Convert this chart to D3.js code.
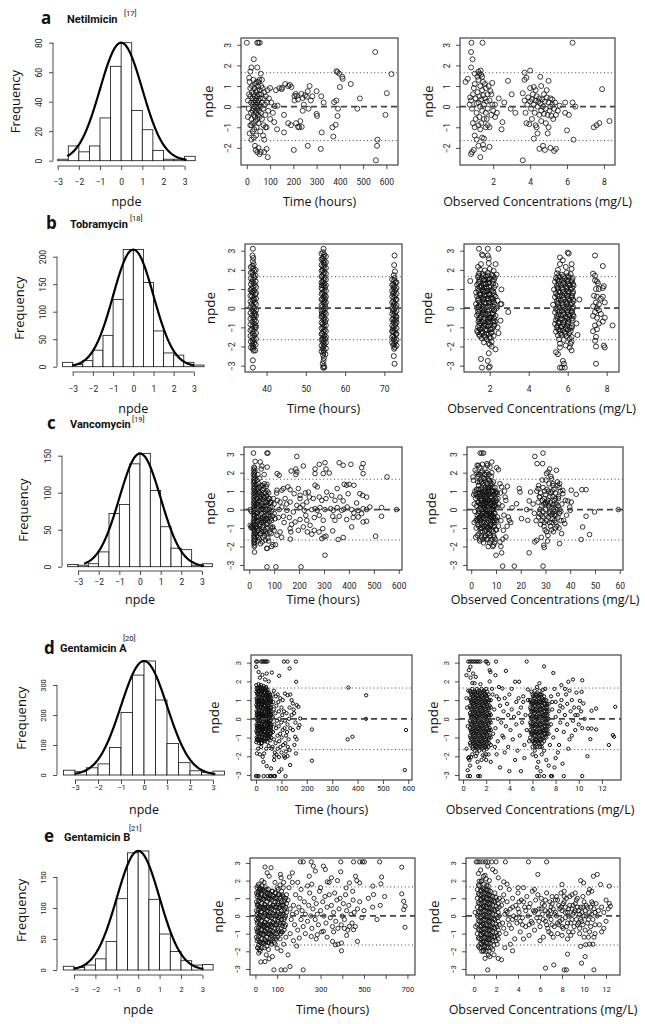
<!DOCTYPE html>
<html><head><meta charset="utf-8">
<script src="https://cdn.jsdelivr.net/npm/d3@7"></script>
<style>body{margin:0;background:#fff}</style>
</head><body>
<script>
// ---------------- DATA ----------------
const letters = ['a','b','c','d','e'];
const drugs = ['Netilmicin','Tobramycin','Vancomycin','Gentamicin A','Gentamicin B'];
const refs = ['[17]','[18]','[19]','[20]','[21]'];
const binW = 0.5;
const histStart = [-3,-3.5,-3.5,-3.5,-3.5];
const histA = [1,10,6,10,29,64,80,34,21,7,1,1,3];
const histB = [8,4,11,30,57,122,213,213,153,65,25,21,8,3];
const histC = [3,2,4,20,72,84,139,153,103,54,25,23,2,4];
const histD = [16,11,24,37,92,208,333,380,250,105,41,14,9,13];
const histE = [6,4,8,18,46,115,189,192,114,58,30,15,8,9];
const freqTicks = [[0,20,40,60,80],[0,50,100,150,200],[0,50,100,150],[0,100,200,300],[0,50,100,150]];
const histXTicks = [-3,-2,-1,0,1,2,3];
const curvePeak = [80,213,153,380,192];
const curveSpan = [[-2.55,3.1],[-3,3],[-2.7,3.1],[-3,3.1],[-3,3.05]];
const npdeTicks = [-3,-2,-1,0,1,2,3];
const timeTicks = [[0,100,200,300,400,500,600],[40,50,60,70],[0,100,200,300,400,500,600],[0,100,200,300,400,500,600],[0,100,200,300,400,500,600,700]];
const timeTickLabels = [null,null,null,null,[0,100,300,500,700]];
const concTicks = [[2,4,6,8],[2,4,6,8],[0,10,20,30,40,50,60],[0,2,4,6,8,10,12],[0,2,4,6,8,10,12]];
const piLimit = 1.645;

// Row a
const aTime = [[0,3.1],[45,3.1],[50,3.1],[56,3.1],
[10,1.4],[12,1.2],[15,0.9],[15,0.5],[18,0.2],[18,-0.3],[20,-0.6],[20,-0.9],[22,1.0],[22,0.7],[25,0.4],[25,0.1],[25,-0.2],[26,-0.8],[28,1.3],[28,0.6],[30,0.2],[30,-0.1],[30,-0.4],[32,0.9],[32,-1.1],[34,0.5],[34,0.0],[35,-0.5],[36,1.1],[36,0.3],[38,-0.2],[38,-0.7],[40,0.7],[40,0.4],[40,0.1],[40,-0.3],[42,1.2],[42,-1.0],[44,0.8],[44,0.2],[45,-0.1],[45,-0.6],[46,0.5],[48,1.0],[48,0.0],[48,-0.4],[50,0.3],[50,-0.8],[52,0.6],[52,-0.2],[54,1.3],[54,0.1],[55,-0.5],[56,0.8],[58,0.4],[58,-1.2],[60,0.0],[60,-0.3],[62,0.6],[62,1.0],[65,0.2],[65,-0.6],[68,0.9],[70,-0.1],[70,0.4],[72,-0.9],[75,0.7],[78,0.1],[80,-0.4],[82,0.5],[85,-1.0],[88,0.2],[90,0.8],[92,-0.2],[95,0.4],[12,-1.3],[20,-1.6],[30,-1.5],[40,-1.4],[35,-1.9],[38,-2.1],[45,-2.2],[50,-2.0],[55,-2.3],[60,-2.2],[70,-1.4],[75,-1.6],[85,-2.05],[90,-2.45],[8,-0.1],[5,0.3],[5,-0.5],[10,0.6],[15,1.7],[20,1.9],[30,2.3],[45,1.9],[60,1.6],[15,-0.9],[25,-1.2],[50,1.2],[65,1.3],[80,-1.0],[75,-2.2],[100,-0.6],[100,0.9],
[150,0.85],[152,0.92],[165,1.1],[178,1.0],[185,1.05],[192,0.95],[205,0.3],[205,0.52],[210,0.62],[220,0.35],[235,0.62],[240,0.42],[250,0.55],[262,0.75],[270,1.0],[258,0.48],[282,0.5],[300,0.75],[320,0.5],[300,-0.35],[302,-0.45],[265,-0.1],[240,-0.2],[230,-0.7],[225,-1.0],[212,-0.8],[220,-0.98],[236,-0.98],[190,-0.9],[178,-0.8],[160,-0.4],[160,-1.25],[130,-1.1],[132,0.05],[120,0.02],[112,-0.3],[105,0.2],[202,-2.1],[262,-1.9],[318,-2.05],[322,-1.25],[368,-1.0],[382,-0.88],[372,-1.45],[390,-0.45],[392,-0.1],[385,0.3],[375,0.22],[385,1.72],[390,1.68],[397,1.6],[410,1.45],[412,1.35],[400,0.95],[447,1.1],[475,-0.1],[486,0.4],[552,2.65],[562,-1.6],[560,-1.9],[555,-2.6],[596,-0.4],[602,0.65],[622,1.58],[245,0.1],[215,0.52],[125,0.8],[140,0.9],[118,-0.75],[275,0.3],[330,0.2]];
const aConc = [[0.82,3.1],[1.42,3.1],[0.8,2.65],[0.88,2.3],[0.8,1.9],[1.0,1.6],[1.2,1.7],[1.32,1.75],[1.35,1.55],[0.5,1.2],[0.62,1.35],[0.75,0.45],[0.8,0.3],[0.72,0.1],[0.85,-0.1],[0.9,0.6],[0.95,0.9],[1.0,1.1],[1.05,0.4],[1.1,0.15],[1.1,-0.3],[1.15,0.7],[1.2,1.3],[1.2,0.2],[1.25,-0.5],[1.25,0.5],[1.3,1.0],[1.3,0.0],[1.35,0.35],[1.4,-0.2],[1.4,0.8],[1.45,0.55],[1.45,1.2],[1.5,0.1],[1.5,-0.6],[1.55,0.4],[1.6,0.9],[1.6,-0.3],[1.65,0.25],[1.7,0.6],[1.7,-0.1],[1.75,1.0],[1.8,0.3],[1.85,0.75],[1.9,-0.4],[1.95,0.1],[1.35,-0.8],[1.3,-1.1],[1.2,-0.9],[1.55,1.1],[1.05,-0.6],[1.15,1.45],[0.85,-2.2],[0.8,-2.3],[0.95,-2.1],[1.3,-2.45],[1.4,-1.5],[1.5,-1.55],[1.5,-2.05],[1.8,-1.95],[1.2,-1.9],[1.0,-1.4],[0.9,-0.8],[1.0,-1.0],[1.6,-1.0],[1.7,-0.9],[1.8,-1.0],[1.45,-1.85],[1.1,-1.6],[1.65,-0.6],[1.9,0.6],[1.95,1.15],[1.4,1.45],[1.25,1.6],
[2.1,-0.5],[2.2,-0.3],[2.3,0.4],[2.5,-0.75],[2.45,-1.1],[2.8,1.25],[3.0,0.6],[2.95,-0.1],[3.2,-0.3],[2.6,0.2],[2.1,0.1],[2.0,-0.2],
[3.6,-2.6],[3.7,1.3],[3.8,1.4],[3.7,1.65],[4.0,1.75],[4.55,1.45],[5.0,1.25],[4.5,-2.05],[4.7,-1.9],[4.8,-2.1],[5.1,-2.0],[5.3,-2.15],[5.4,-2.05],[4.2,-1.55],[4.4,-1.3],[3.8,-0.8],[3.95,-0.85],[4.3,-0.9],[3.6,0.65],[4.0,0.9],[4.3,0.8],[4.6,1.0],[4.9,0.8],[5.1,0.4],[5.2,0.1],[5.5,-0.2],[5.6,0.05],[3.7,0.3],[3.85,0.1],[3.9,0.45],[4.0,0.25],[4.05,-0.1],[4.1,0.35],[4.15,0.6],[4.2,0.1],[4.25,-0.3],[4.3,0.3],[4.35,0.5],[4.4,0.0],[4.45,0.25],[4.5,-0.4],[4.5,0.4],[4.55,0.15],[4.6,-0.2],[4.65,0.35],[4.7,0.0],[4.75,-0.35],[4.8,0.25],[4.85,-0.1],[4.9,0.45],[4.95,-0.4],[5.0,0.2],[5.05,-0.2],[5.1,0.0],[5.15,-0.45],[5.2,0.35],[5.3,-0.1],[5.35,0.2],[4.1,-0.6],[4.6,-0.7],[4.85,-0.8],[5.0,-1.0],[4.95,-1.3],[3.75,-0.3],[4.2,0.95],[4.75,0.6],[5.25,-0.6],[5.4,-0.4],[4.35,-1.0],
[5.9,0.2],[6.1,-0.4],[6.3,0.2],[6.45,0.0],[6.0,-1.15],[5.9,-0.3],[6.3,3.1],[6.35,-1.6],[7.45,-1.0],[7.6,-0.9],[7.75,-0.8],[7.9,0.85],[8.3,-0.7]];

// Row b
const bTimeStrips = [[36.5,3.1],[36.4,2.75],[36.6,2.62],[36.5,2.45],[36.7,2.3],[36.4,2.2],[36.6,2.08],[36.8,1.95],[36.4,1.85],[36.6,1.72],[36.9,1.6],[36.5,1.5],[36.3,1.38],[36.7,1.3],[37.0,1.2],[36.5,1.12],[36.2,1.0],[36.8,0.92],[36.5,0.8],[37.1,0.72],[36.3,0.62],[36.7,0.52],[36.5,0.4],[37.0,0.3],[36.2,0.22],[36.6,0.1],[36.9,0.0],[36.4,-0.1],[36.7,-0.2],[37.1,-0.28],[36.3,-0.38],[36.6,-0.5],[36.9,-0.6],[36.4,-0.7],[36.8,-0.8],[36.5,-0.92],[37.0,-1.0],[36.3,-1.1],[36.7,-1.2],[36.5,-1.32],[36.9,-1.42],[36.4,-1.52],[36.7,-1.62],[36.5,-1.72],[36.8,-1.82],[36.4,-1.92],[36.6,-2.02],[36.5,-2.12],[36.7,-2.22],[36.5,-2.72],[36.5,-3.1],[36.8,0.45],[36.9,-0.4],[36.3,0.85],[37.2,-0.9],
[54.5,3.1],[54.4,2.92],[54.7,2.8],[54.5,2.68],[54.3,2.58],[54.6,2.48],[54.5,2.38],[54.8,2.28],[54.4,2.18],[54.6,2.08],[54.3,1.98],[54.7,1.88],[54.5,1.78],[54.2,1.68],[54.8,1.58],[54.5,1.48],[54.3,1.38],[54.7,1.28],[54.5,1.18],[54.9,1.08],[54.2,0.98],[54.6,0.88],[54.4,0.78],[54.8,0.68],[54.5,0.58],[54.2,0.48],[54.7,0.38],[54.5,0.28],[54.9,0.18],[54.3,0.08],[54.6,-0.02],[54.4,-0.12],[54.8,-0.22],[54.5,-0.32],[54.2,-0.42],[54.7,-0.52],[54.5,-0.62],[54.9,-0.72],[54.3,-0.82],[54.6,-0.92],[54.4,-1.02],[54.8,-1.12],[54.5,-1.22],[54.2,-1.32],[54.7,-1.42],[54.5,-1.52],[54.3,-1.62],[54.6,-1.72],[54.4,-1.82],[54.7,-1.92],[54.5,-2.02],[54.3,-2.12],[54.6,-2.22],[54.5,-2.32],[54.4,-2.45],[54.6,-2.6],[54.5,-2.75],[54.3,-2.9],[54.6,-3.02],[54.4,-3.1],[54.7,-3.1],[54.9,0.5],[54.1,-0.3],[54.9,-1.6],[54.1,1.2],
[72.6,2.75],[72.5,2.25],[72.7,1.92],[72.4,1.72],[72.6,1.58],[72.5,1.45],[72.8,1.35],[72.3,1.25],[72.6,1.15],[72.4,1.05],[72.8,0.95],[72.5,0.85],[72.2,0.75],[72.7,0.65],[72.5,0.55],[72.9,0.45],[72.3,0.35],[72.6,0.25],[72.4,0.15],[72.8,0.05],[72.5,-0.05],[72.2,-0.15],[72.7,-0.25],[72.5,-0.35],[72.9,-0.45],[72.3,-0.55],[72.6,-0.65],[72.4,-0.75],[72.8,-0.85],[72.5,-0.95],[72.2,-1.05],[72.7,-1.15],[72.5,-1.25],[72.9,-1.35],[72.3,-1.45],[72.6,-1.55],[72.4,-1.65],[72.8,-1.75],[72.5,-1.85],[72.3,-1.95],[72.7,-2.05],[72.5,-2.12],[72.4,-2.5],[72.6,-2.9],[73.0,-0.6],[72.1,-1.2]];
const bTimeEdges = [[36.0,2.15],[37.2,2.0],[36.0,1.85],[37.2,1.7],[36.0,1.55],[37.2,1.4],[36.0,1.25],[37.3,1.1],[35.9,0.95],[37.3,0.8],[35.9,0.65],[37.3,0.5],[35.9,0.35],[37.3,0.2],[35.9,0.05],[37.3,-0.1],[35.9,-0.25],[37.3,-0.4],[35.9,-0.55],[37.3,-0.7],[35.9,-0.85],[37.3,-1.0],[35.9,-1.15],[37.3,-1.3],[35.9,-1.45],[37.3,-1.6],[36.0,-1.75],[37.2,-1.9],[36.0,-2.05],[37.1,-2.2],
[54.0,2.85],[55.1,2.7],[54.0,2.55],[55.1,2.4],[54.0,2.25],[55.1,2.1],[54.0,1.95],[55.1,1.8],[54.0,1.65],[55.1,1.5],[54.0,1.35],[55.1,1.2],[54.0,1.05],[55.1,0.9],[54.0,0.75],[55.1,0.6],[54.0,0.45],[55.1,0.3],[54.0,0.15],[55.1,0.0],[54.0,-0.15],[55.1,-0.3],[54.0,-0.45],[55.1,-0.6],[54.0,-0.75],[55.1,-0.9],[54.0,-1.05],[55.1,-1.2],[54.0,-1.35],[55.1,-1.5],[54.0,-1.65],[55.1,-1.8],[54.0,-1.95],[55.1,-2.1],[54.0,-2.25],[55.0,-2.4],
[72.0,1.5],[73.1,1.35],[72.0,1.2],[73.1,1.05],[72.0,0.9],[73.1,0.75],[72.0,0.6],[73.1,0.45],[72.0,0.3],[73.1,0.15],[72.0,0.0],[73.1,-0.15],[72.0,-0.3],[73.1,-0.45],[72.0,-0.6],[73.1,-0.75],[72.0,-0.9],[73.1,-1.05],[72.0,-1.2],[73.1,-1.35],[72.0,-1.5],[73.1,-1.65],[72.0,-1.8],[73.1,-1.95]];
const bConcMain = [[1.5,2.02],[1.75,1.97],[2.0,2.05],[2.2,1.95],[1.45,1.82],[1.65,1.78],[1.9,1.85],[2.1,1.75],[1.4,1.62],[1.6,1.57],[1.8,1.65],[2.0,1.55],[2.25,1.6],[1.0,1.42],[1.45,1.38],[1.7,1.45],[1.95,1.35],[2.15,1.43],[1.35,1.22],[1.55,1.17],[1.8,1.25],[2.05,1.15],[2.3,1.2],[1.4,1.02],[1.65,0.97],[1.85,1.05],[2.1,0.95],[2.6,0.98],[1.3,0.82],[1.5,0.77],[1.75,0.85],[1.95,0.75],[2.2,0.8],[1.35,0.62],[1.6,0.57],[1.85,0.65],[2.05,0.55],[2.3,0.6],[1.4,0.42],[1.65,0.37],[1.9,0.45],[2.15,0.35],[2.4,0.4],[1.3,0.22],[1.55,0.17],[1.8,0.25],[2.0,0.15],[2.25,0.2],[2.6,0.22],[1.35,0.02],[1.6,-0.03],[1.85,0.05],[2.1,-0.05],[2.35,0.0],[1.4,-0.18],[1.65,-0.23],[1.9,-0.15],[2.15,-0.25],[2.95,-0.2],[1.35,-0.38],[1.55,-0.43],[1.8,-0.35],[2.05,-0.45],[2.3,-0.4],[1.45,-0.58],[1.7,-0.63],[1.95,-0.55],[2.2,-0.65],[2.55,-0.65],[1.5,-0.78],[1.75,-0.83],[2.0,-0.75],[2.25,-0.85],[1.4,-0.98],[1.65,-1.03],[1.9,-0.95],[2.15,-1.05],[2.4,-1.0],[1.35,-1.18],[1.6,-1.23],[1.85,-1.15],[2.1,-1.25],[2.45,-1.3],[1.45,-1.38],[1.7,-1.43],[1.95,-1.35],[2.2,-1.45],[1.6,-1.58],[1.85,-1.63],[2.05,-1.55],[1.7,-1.78],[1.95,-1.83],[2.1,-1.75],
[1.57,1.1],[1.82,0.9],[2.0,0.7],[1.72,0.5],[1.97,0.3],[1.47,0.1],[2.22,-0.1],[1.77,-0.3],[2.02,-0.5],[1.57,-0.7],[1.82,-0.9],[2.07,-1.1],[1.52,0.7],[2.12,0.5],[1.62,-0.1],[1.92,-0.6],[1.77,1.3],[2.27,-0.7],[1.5,-1.1],[1.9,1.5],
[1.45,3.1],[1.6,2.8],[1.65,2.75],[1.9,3.1],[1.9,2.75],[1.95,2.6],[2.45,3.1],[2.3,2.3],[1.4,2.15],[1.55,2.3],[1.95,2.35],[2.35,1.75],[2.3,-2.15],[1.55,-2.65],[1.6,-3.1],[1.95,-3.1],[2.0,-3.05],[1.9,-2.75],[1.95,-2.35],[2.1,-2.0],[2.0,-1.9],[1.5,-1.45],[1.4,-1.25],[2.55,0.2],
[5.45,1.82],[5.7,1.75],[5.95,1.85],[6.15,1.78],[5.4,1.58],[5.6,1.62],[5.85,1.55],[6.05,1.6],[6.25,1.57],[5.35,1.38],[5.55,1.42],[5.8,1.35],[6.0,1.4],[6.2,1.37],[5.45,1.18],[5.65,1.22],[5.9,1.15],[6.1,1.2],[6.3,1.17],[5.3,0.98],[5.5,1.02],[5.75,0.95],[5.95,1.0],[6.15,0.97],[5.4,0.78],[5.6,0.82],[5.85,0.75],[6.05,0.8],[6.25,0.77],[6.6,0.45],[5.35,0.58],[5.55,0.62],[5.8,0.55],[6.0,0.6],[6.2,0.57],[5.45,0.38],[5.65,0.42],[5.9,0.35],[6.1,0.4],[6.3,0.37],[5.25,0.18],[5.5,0.22],[5.75,0.15],[5.95,0.2],[6.15,0.17],[5.4,-0.02],[5.6,0.02],[5.85,-0.05],[6.05,0.0],[6.25,-0.03],[5.35,-0.22],[5.55,-0.18],[5.8,-0.25],[6.0,-0.2],[6.2,-0.23],[5.45,-0.42],[5.65,-0.38],[5.9,-0.45],[6.1,-0.4],[6.3,-0.43],[5.4,-0.62],[5.6,-0.58],[5.85,-0.65],[6.05,-0.6],[6.25,-0.63],[5.35,-0.82],[5.55,-0.78],[5.8,-0.85],[6.0,-0.8],[6.45,-0.8],[5.45,-1.02],[5.65,-0.98],[5.9,-1.05],[6.1,-1.0],[6.2,-1.03],[5.4,-1.22],[5.6,-1.18],[5.85,-1.25],[6.15,-1.2],[6.5,-1.4],[5.5,-1.42],[5.7,-1.38],[5.95,-1.45],[6.2,-1.5],[5.55,-1.62],[5.8,-1.65],[6.1,-1.6],[6.2,-1.75],[5.6,-1.85],[5.9,-1.95],[6.1,-2.05],[6.2,-2.2],
[5.6,2.65],[5.75,2.5],[5.6,2.3],[6.0,2.9],[6.05,2.85],[6.2,2.3],[6.2,2.05],[5.9,2.15],[5.5,2.0],[5.5,-2.4],[5.4,-2.3],[5.6,-2.05],[5.75,-2.75],[5.8,-2.9],[5.7,-3.1],[5.85,-3.1],[5.6,-3.1],[6.15,-1.85],
[7.4,2.75],[7.8,2.2],[7.3,1.8],[7.4,1.7],[7.4,1.45],[7.5,1.4],[7.55,1.3],[7.85,1.15],[7.8,1.05],[7.8,0.6],[7.9,0.3],[7.35,0.65],[7.5,0.6],[7.7,0.5],[7.6,0.2],[7.5,0.0],[7.4,-0.2],[7.3,-0.4],[7.5,-0.5],[7.7,-0.3],[7.9,-0.5],[7.8,-0.7],[7.4,-0.9],[7.3,-1.2],[7.5,-1.1],[7.45,-1.5],[7.4,-1.7],[7.45,-2.0],[7.85,-1.95],[7.9,-2.05],[7.45,-2.9],[8.3,-0.9],[7.6,-0.1],[7.45,0.3],[7.3,0.1],[7.6,-0.8],[7.6,1.0],[7.45,1.0]];
const bConcCores = [[1.42,1.7],[1.67,1.68],[1.92,1.7],[2.17,1.68],[1.47,1.5],[1.72,1.48],[1.97,1.5],[2.22,1.48],[1.42,1.3],[1.67,1.28],[1.92,1.3],[2.17,1.28],[1.47,1.1],[1.72,1.08],[1.97,1.1],[2.22,1.08],[1.42,0.9],[1.67,0.88],[1.92,0.9],[2.17,0.88],[1.47,0.7],[1.72,0.68],[1.97,0.7],[2.22,0.68],[1.42,0.5],[1.67,0.48],[1.92,0.5],[2.17,0.48],[1.47,0.3],[1.72,0.28],[1.97,0.28],[2.22,0.3],[1.42,0.1],[1.67,0.08],[1.92,0.1],[2.17,0.08],[1.47,-0.1],[1.72,-0.12],[1.97,-0.1],[2.22,-0.12],[1.42,-0.3],[1.67,-0.32],[1.92,-0.3],[2.17,-0.32],[1.47,-0.5],[1.72,-0.52],[1.97,-0.5],[2.22,-0.52],[1.42,-0.7],[1.67,-0.72],[1.92,-0.7],[2.17,-0.72],[1.47,-0.9],[1.72,-0.92],[1.97,-0.9],[2.22,-0.92],[1.52,-1.1],[1.77,-1.12],[2.02,-1.1],[1.57,-1.3],[1.82,-1.32],[2.07,-1.3],[1.77,-1.5],[1.97,-1.52],
[5.52,1.68],[5.77,1.66],[6.02,1.68],[5.47,1.48],[5.72,1.46],[5.97,1.48],[6.22,1.46],[5.52,1.28],[5.77,1.26],[6.02,1.28],[6.27,1.26],[5.47,1.08],[5.72,1.06],[5.97,1.08],[6.22,1.06],[5.52,0.88],[5.77,0.86],[6.02,0.88],[6.27,0.86],[5.47,0.68],[5.72,0.66],[5.97,0.68],[6.22,0.66],[5.52,0.48],[5.77,0.46],[6.02,0.48],[6.27,0.46],[5.47,0.28],[5.72,0.26],[5.97,0.28],[6.22,0.26],[5.52,0.08],[5.77,0.06],[6.02,0.08],[6.27,0.06],[5.47,-0.12],[5.72,-0.14],[5.97,-0.12],[6.22,-0.14],[5.52,-0.32],[5.77,-0.34],[6.02,-0.32],[6.27,-0.34],[5.47,-0.52],[5.72,-0.54],[5.97,-0.52],[6.22,-0.54],[5.52,-0.72],[5.77,-0.74],[6.02,-0.72],[5.47,-0.92],[5.72,-0.94],[5.97,-0.92],[6.22,-0.94],[5.52,-1.12],[5.77,-1.14],[6.02,-1.12],[5.62,-1.32],[5.87,-1.34],[6.07,-1.32]];

// Row c
const cTimeMain = [[19,2.3],[22,2.25],[18,2.15],[23,2.08],[20,2.0],[17,1.92],[22,1.85],[19,1.76],[23,1.68],[18,1.6],[21,1.52],[17,1.44],[23,1.36],[19,1.28],[22,1.2],[18,1.12],[21,1.04],[23,0.96],[17,0.88],[20,0.8],[22,0.72],[18,0.64],[23,0.56],[19,0.48],[21,0.4],[17,0.32],[23,0.24],[20,0.16],[18,0.08],[22,0.0],[19,-0.08],[23,-0.16],[17,-0.24],[21,-0.32],[19,-0.4],[23,-0.48],[18,-0.56],[21,-0.64],[17,-0.72],[22,-0.8],[19,-0.88],[23,-0.96],[18,-1.04],[21,-1.12],[20,-1.2],[23,-1.28],[18,-1.36],[21,-1.44],[19,-1.52],[22,-1.6],[18,-1.68],[21,-1.76],[19,-1.84],[22,-1.92],[20,-2.0],[21,-2.3],[17,3.06],[24,2.61],[4,0.0],[4,-0.85],[7,-0.97],[10,-0.9],[12,-1.0],[8,-0.1],
[28,1.35],[32,1.1],[35,0.85],[30,0.6],[33,0.35],[29,0.1],[34,-0.15],[30,-0.4],[33,-0.65],[29,-0.9],[34,-1.15],[31,-1.4],[35,-1.7],[38,1.4],[42,1.2],[40,0.95],[44,0.7],[39,0.45],[43,0.2],[40,-0.05],[44,-0.3],[39,-0.55],[43,-0.8],[40,-1.05],[44,-1.3],[41,-1.6],[45,-1.85],[48,1.3],[52,1.05],[50,0.8],[54,0.55],[49,0.3],[53,0.05],[50,-0.2],[54,-0.45],[49,-0.7],[53,-0.95],[50,-1.2],[55,-1.5],[52,-1.75],[58,1.15],[62,0.9],[60,0.65],[64,0.4],[59,0.15],[63,-0.1],[60,-0.35],[64,-0.6],[59,-0.85],[63,-1.1],[61,-1.4],[65,-1.65],[68,1.25],[72,1.0],[70,0.75],[74,0.5],[69,0.25],[73,0.0],[70,-0.25],[74,-0.5],[69,-0.75],[73,-1.0],[71,-1.3],[75,-1.55],[72,-2.1],[78,0.9],[82,0.6],[80,0.35],[84,0.1],[79,-0.15],[83,-0.4],[80,-0.65],[85,-0.95],[82,-1.25],[78,-1.7],[88,0.4],[92,0.15],[90,-0.1],[94,-0.35],[89,-0.6],[93,-1.0],[95,-1.9],[88,-1.3],[60,1.4],[71,1.37],[44,2.58],[51,2.36],[48,2.2],[71,3.06],[75,3.06],[71,-3.1],[107,-3.1],[70,-2.1],[90,-2.0],[105,-1.9],[72,2.3],[60,1.9],[35,1.9],
[26,0.9],[27,-0.6],[28,0.3],[31,-0.2],[32,0.6],[33,-1.0],[36,0.2],[37,-0.4],[37,1.0],[41,0.5],[42,-0.9],[43,0.9],[46,0.0],[47,-0.6],[47,0.6],[51,0.2],[52,-0.5],[52,1.3],[56,0.0],[57,-0.7],[57,0.7],[61,0.2],[62,-0.5],[66,0.0],[67,0.9],[67,-0.5],[71,0.4],[72,-0.8],[76,-0.3],[77,0.6],[81,0.0],[86,0.4],[87,-0.5],[26,-1.3],[36,-1.5],[46,-1.3],[56,-1.2],[66,-1.2],[31,1.6],[41,1.7]];
const cTimeSpread = [[208,-3.1],[191,2.88],[187,2.2],[191,2.04],[187,1.9],[217,2.36],[168,2.09],[264,1.95],[264,2.2],[281,2.45],[304,2.54],[308,2.2],[321,1.98],[297,1.95],[361,2.54],[377,2.4],[408,2.45],[451,2.27],[457,2.49],[457,1.95],[553,1.77],[112,1.95],[120,1.86],[131,1.05],[137,1.14],[155,1.23],[164,1.08],[111,1.05],[197,1.14],[180,0.86],[204,0.77],[237,0.95],[264,1.32],[273,1.23],[311,0.95],[353,1.14],[381,1.37],[391,1.32],[401,1.37],[420,1.32],[444,0.86],[455,0.77],[97,0.6],[113,0.5],[124,0.41],[144,0.6],[164,0.41],[191,0.23],[204,0.6],[231,0.41],[241,0.68],[257,0.6],[281,0.68],[291,0.5],[308,0.6],[331,0.77],[344,0.5],[364,0.68],[377,0.47],[397,0.86],[431,0.36],[471,0.68],[131,0.14],[151,-0.04],[177,-0.13],[204,0.11],[221,-0.04],[251,0],[264,0.05],[273,-0.04],[284,0.11],[304,0],[327,0.05],[337,-0.04],[353,0.11],[371,-0.04],[380,0.02],[393,0.14],[411,0],[420,-0.18],[437,-0.04],[457,0.05],[471,0],[484,0.14],[531,0.11],[591,0],[104,-0.49],[117,-0.43],[137,-0.36],[161,-0.43],[184,-0.67],[204,-0.54],[227,-0.31],[231,-0.58],[244,-0.85],[261,-0.43],[281,-0.31],[297,-0.58],[335,-0.36],[344,-0.58],[361,-0.36],[391,-0.54],[417,-0.43],[437,-0.4],[471,-0.63],[451,-0.22],[531,-0.36],[95,-0.94],[100,-1.12],[111,-1.39],[124,-1.21],[164,-1.03],[167,-1.21],[197,-1.12],[217,-0.94],[233,-1.21],[251,-1.33],[261,-1.12],[280,-1.21],[295,-1.03],[291,-1.57],[300,-1.48],[308,-1.44],[335,-1.15],[411,-0.94],[457,-0.67],[507,-1.44],[357,-1.62],[377,-1.51],[304,-2.47],[130,-1.5],[165,-1.6],[170,-0.8],[120,0.0],[140,-0.7],[150,0.3],[215,0.25],[225,0.9],[110,0.9],[100,0.3],[100,-0.2]];
const cConcMain = [[1.2,0.3],[1.5,-0.1],[1.8,0.6],[1.9,-0.6],[2.1,0.2],[2.2,1.1],[2.0,-1.0],[2.4,-0.3],[2.5,0.7],[2.6,1.5],[2.7,-0.8],[2.8,0.0],[2.9,1.9],[3.0,0.4],[3.1,-1.3],[3.2,1.1],[3.3,-0.4],[3.4,2.3],[3.5,0.8],[3.6,-1.0],[3.7,0.1],[3.8,1.6],[3.9,-0.6],[4.0,2.0],[4.1,0.5],[4.2,-1.5],[4.3,1.2],[4.4,-0.2],[4.5,2.45],[4.6,0.9],[4.7,-0.9],[4.8,0.2],[4.9,1.7],[5.0,-1.8],[5.1,-0.5],[5.2,1.3],[5.3,0.6],[5.4,-1.2],[5.5,2.2],[5.6,0.0],[5.7,1.0],[5.8,-0.8],[5.9,0.4],[6.0,1.9],[6.1,-1.6],[6.2,-0.3],[6.3,1.4],[6.4,0.7],[6.5,-1.0],[6.6,2.4],[6.7,0.1],[6.8,1.1],[6.9,-2.0],[7.0,-0.6],[7.1,0.5],[7.2,1.6],[7.3,-1.3],[7.4,-0.1],[7.5,0.9],[7.6,2.3],[7.7,-0.9],[7.8,0.3],[7.9,1.3],[8.0,-1.7],[8.1,-0.4],[8.2,0.7],[8.3,2.0],[8.4,-1.1],[8.5,0.0],[8.6,1.0],[8.7,-2.0],[8.8,-0.6],[8.9,0.4],[9.0,1.5],[9.1,-1.4],[9.2,-0.2],[9.3,0.8],[9.4,-0.9],[9.5,0.2],[9.6,1.2],[9.7,-1.6],[9.8,-0.5],[9.9,0.6],[10.0,1.0],[10.2,-1.1],[10.4,0.1],[10.6,-0.4],[10.8,0.6],[11.0,-0.9],[11.2,0.3],
[2.3,-0.5],[2.6,0.4],[2.9,-0.2],[3.2,0.7],[3.5,-0.5],[3.8,0.3],[4.1,-0.8],[4.4,0.6],[4.7,1.4],[5.0,0.3],[5.3,-0.9],[5.6,1.6],[5.9,-0.3],[6.2,0.9],[6.5,-0.1],[6.8,-1.3],[7.1,1.2],[7.4,0.4],[7.7,-0.4],[8.0,1.0],[8.3,-0.8],[8.6,0.2],[8.9,-1.2],[9.2,0.5],[9.5,-0.6],[9.8,0.9],[3.0,-0.9],[3.3,1.5],[3.6,-1.6],[3.9,1.1],[4.2,0.0],[4.5,-1.2],[4.8,-0.4],[5.1,0.8],[5.4,1.9],[5.7,-1.4],[6.0,0.2],[6.3,-0.7],[6.6,1.2],[6.9,0.5],[7.2,-0.2],[7.5,-1.8],[7.8,1.5],[8.1,0.4],[8.4,1.4],[8.7,-0.3],[9.0,0.0],[9.3,-1.5],[4.6,-0.1],[5.5,0.5],[6.4,0.0],[7.3,0.8],[8.2,-0.1],[3.4,0.3],[4.0,-0.3],[5.8,1.2],[6.7,-0.5],[7.6,0.1],[5.2,-0.2],[6.1,0.6],[7.0,1.0],[7.9,-0.6],[8.8,0.8],[4.3,0.9],[2.8,1.1],[3.1,-0.5],[9.6,0.4],[10.1,0.5],
[2.2,0.8],[2.5,-1.4],[2.7,1.8],[3.0,1.3],[3.2,-0.1],[3.4,-1.7],[3.5,1.9],[3.7,0.6],[3.9,-1.2],[4.1,1.5],[4.3,-0.5],[4.4,2.1],[4.5,0.3],[4.7,-1.6],[4.9,1.0],[5.0,-0.7],[5.2,0.1],[5.3,1.7],[5.5,-1.5],[5.6,0.7],[5.8,0.0],[5.9,1.5],[6.0,-1.1],[6.2,0.4],[6.3,2.0],[6.4,-0.9],[6.6,-1.6],[6.7,0.8],[6.8,1.6],[7.0,0.2],[7.1,-1.0],[7.2,1.9],[7.3,0.5],[7.5,-0.5],[7.6,1.2],[7.7,-1.4],[7.9,0.7],[8.0,-0.1],[8.1,1.8],[8.3,-0.3],[8.4,-1.6],[8.5,0.5],[8.7,1.2],[8.8,-0.9],[9.0,-0.4],[9.1,1.0],[9.3,0.2],[9.4,-1.8],[9.6,-0.2],[9.7,0.9],[9.9,-1.1],[10.1,0.2],[10.3,-0.6],[10.5,0.9],[3.3,0.9],[4.0,0.5],[4.6,-0.4],[5.4,0.9],[6.1,-0.2],[6.9,-0.3],[7.4,-1.1],[8.2,0.0],[8.9,0.1],[5.7,0.3],[4.2,-1.0],[3.6,0.1],[2.6,-0.6],[6.5,0.5],[7.8,-0.8],[9.2,-0.7]];
const cConcOuter = [[3.6,3.06],[4.3,3.06],[5.0,3.06],[8.3,2.58],[6.3,2.49],[2.9,2.4],[1.6,2.13],[10.3,2.27],[11.0,2.16],[0.7,1.77],[0.9,1.59],[1.6,0.86],[11.6,1.4],[12.3,1.23],[14.6,1.26],[13.7,0.68],[14.0,0.5],[15.0,-0.4],[15.4,-0.58],[13.0,-1.12],[14.0,-1.48],[11.6,-1.75],[12.0,-2.0],[12.3,-2.34],[10.0,-2.47],[9.0,-1.93],[12.7,-3.06],[17.4,-3.06],[18.3,0.32],[19.4,1.14],[19.7,0.95],[20.3,-0.49],[22.4,0.0],[22.8,-0.58],[23.4,0.47],[24.0,0.95],[25.7,2.88],[26.6,2.49],[23.4,-2.34],[12.5,0.2],[13.2,-0.3],[11.8,0.9],[12.0,-0.6],[14.5,-0.9],[16.0,-0.7],[16.5,0.1],[13.5,1.0],[12.8,-1.6],[1.5,1.0],[1.2,-0.7],[1.0,0.8],[2.2,2.0],[2.4,2.4],[1.8,-1.5],
[27,0.4],[27.5,-0.2],[28,0.9],[28,-0.8],[28.5,0.2],[29,-0.4],[29,1.2],[29.5,0.6],[29.8,-1.1],[30,0.0],[30.2,1.6],[30.5,-0.6],[30.8,0.4],[31,-1.4],[31.2,1.0],[31.5,-0.2],[31.8,0.7],[32,-0.9],[32.2,1.8],[32.5,0.1],[32.8,-0.5],[33,1.3],[33.2,-1.2],[33.5,0.5],[33.8,-0.1],[34,0.9],[34.2,-0.7],[34.5,0.3],[34.8,1.5],[35,-0.4],[35.2,0.6],[35.5,-1.0],[35.8,0.0],[36,1.0],[36.3,-0.6],[36.6,0.3],[28.3,-1.5],[29.3,0.3],[30.3,-0.3],[31.3,0.2],[32.3,-0.3],[33.3,0.0],[34.3,-0.3],[30,0.8],[31,0.5],[32,0.4],[33,0.7],[29,-0.1],[31.6,-0.7],[33.6,-0.6],[35.5,1.2],[26.5,1.0],[26.2,-0.6],[27.2,1.3],[28.7,1.6],[30.8,-1.7],[29.5,-0.7],[32.7,1.0],[34.7,0.0],[27.8,0.0],
[27.5,0.7],[28.2,-0.3],[28.8,0.5],[29.4,-0.9],[30.1,0.3],[30.6,1.1],[31.1,-0.4],[31.7,0.1],[32.1,0.9],[32.6,-0.7],[33.1,0.3],[33.7,-0.3],[34.1,0.6],[34.6,-0.9],[35.1,0.2],[35.6,-0.2],[29.7,1.0],[31.4,1.4],[33.4,1.1],[30.4,-1.2],[32.4,-1.1],[34.0,-1.0],[28.6,-0.6],[31.9,-0.1],[33.9,0.3],[29.9,0.4],[35.3,0.7],[27.2,-0.4],[36.2,-0.1],[32.9,-0.2],
[29,3.06],[28.8,2.49],[31,2.04],[30.4,1.95],[31.7,2.2],[34.4,2.13],[32.4,1.68],[33,1.4],[35,1.32],[35.7,1.4],[27.7,0.68],[27,1.14],[26.4,-1.66],[25.7,-1.75],[29.3,-1.93],[29.5,-2.05],[29,-3.06],[35.7,-1.84],[37.3,-0.58],[37.8,-0.76],[37,1.04],[37,0.86],[38,0.5],[39,0.47],[39.8,0.14],[40,-0.04],[40.4,1.05],[42.4,0.83],[44.7,1.08],[46.4,1.08],[46.4,-0.36],[45,-0.94],[44.4,-1.62],[47.8,-1.35],[49.8,-0.13],[59.4,0],[40.4,0.41],[38.5,-0.3],[36.5,-1.3],[25,0.3],[25.5,-0.2]];

// Row d
const dTimeBlock = [[1,1.8],[1,1.45],[2,1.1],[1,0.75],[2,0.4],[1,0.05],[2,-0.3],[1,-0.65],[2,-1.0],[1,-1.25],[6,1.65],[5,1.3],[6,0.95],[5,0.6],[6,0.25],[5,-0.1],[6,-0.45],[5,-0.8],[6,-1.15],[10,1.85],[11,1.5],[10,1.15],[11,0.8],[10,0.45],[11,0.1],[10,-0.25],[11,-0.6],[10,-0.95],[11,-1.3],[15,1.7],[16,1.35],[15,1.0],[16,0.65],[15,0.3],[16,-0.05],[15,-0.4],[16,-0.75],[15,-1.1],[20,1.8],[21,1.45],[20,1.1],[21,0.75],[20,0.4],[21,0.05],[20,-0.3],[21,-0.65],[20,-1.0],[21,-1.3],[25,1.65],[26,1.3],[25,0.95],[26,0.6],[25,0.25],[26,-0.1],[25,-0.45],[26,-0.8],[25,-1.15],[30,1.75],[31,1.4],[30,1.05],[31,0.7],[30,0.35],[31,0.0],[30,-0.35],[31,-0.7],[30,-1.05],[35,1.6],[36,1.25],[35,0.9],[36,0.55],[35,0.2],[36,-0.15],[35,-0.5],[36,-0.85],[35,-1.2],[40,1.7],[41,1.35],[40,1.0],[41,0.65],[40,0.3],[41,-0.05],[40,-0.4],[41,-0.75],[40,-1.1],[45,1.55],[46,1.2],[45,0.85],[46,0.5],[45,0.15],[46,-0.2],[45,-0.55],[46,-0.9],[45,-1.25],[50,1.4],[51,1.05],[50,0.7],[51,0.35],[50,0.0],[51,-0.35],[50,-0.7],[51,-1.05],[55,1.3],[56,0.95],[55,0.6],[56,0.25],[55,-0.1],[56,-0.45],[55,-0.8],[56,-1.15],[60,1.1],[61,0.75],[60,0.4],[61,0.05],[60,-0.3],[61,-0.65],[60,-1.0],
[3,1.62],[3,0.92],[3,0.22],[3,-0.48],[3,-1.12],[8,1.48],[8,0.78],[8,0.08],[8,-0.62],[13,1.62],[13,0.92],[13,0.22],[13,-0.48],[13,-1.18],[18,1.55],[18,0.85],[18,0.15],[18,-0.55],[23,1.48],[23,0.78],[23,0.08],[23,-0.62],[23,-1.3],[28,1.55],[28,0.85],[28,0.15],[28,-0.55],[33,1.45],[33,0.75],[33,0.05],[33,-0.65],[38,1.52],[38,0.82],[38,0.12],[38,-0.58],[43,1.3],[43,0.6],[43,-0.1],[43,-0.8],[48,1.2],[48,0.5],[48,-0.2],[48,-0.9],[53,1.1],[53,0.4],[53,-0.3],[58,0.9],[58,0.2],[58,-0.5],
[4,1.37],[4,1.02],[4,0.67],[4,0.32],[4,-0.03],[4,-0.38],[4,-0.73],[4,-1.08],[9,1.67],[9,1.32],[9,0.97],[9,0.62],[9,0.27],[9,-0.08],[9,-0.43],[9,-0.78],[9,-1.13],[14,1.47],[14,1.12],[14,0.77],[14,0.42],[14,0.07],[14,-0.28],[14,-0.63],[14,-0.98],[19,1.67],[19,1.32],[19,0.97],[19,0.62],[19,0.27],[19,-0.08],[19,-0.43],[19,-0.78],[19,-1.13],[24,1.47],[24,1.12],[24,0.77],[24,0.42],[24,0.07],[24,-0.28],[24,-0.63],[24,-0.98],[29,1.62],[29,1.27],[29,0.92],[29,0.57],[29,0.22],[29,-0.13],[29,-0.48],[29,-0.83],[29,-1.18],[34,1.42],[34,1.07],[34,0.72],[34,0.37],[34,0.02],[34,-0.33],[34,-0.68],[34,-1.03],[39,1.62],[39,1.27],[39,0.92],[39,0.57],[39,0.22],[39,-0.13],[39,-0.48],[39,-0.83],[44,1.42],[44,1.07],[44,0.72],[44,0.37],[44,0.02],[44,-0.33],[44,-0.68],[44,-1.03],[49,1.27],[49,0.92],[49,0.57],[49,0.22],[49,-0.13],[49,-0.48],[49,-0.83],[54,1.17],[54,0.82],[54,0.47],[54,0.12],[54,-0.23],[54,-0.58],[54,-0.93],[59,0.97],[59,0.62],[59,0.27],[59,-0.08],[59,-0.43],[59,-0.78]];
const dTimeSpread = [[65,1.3],[68,0.9],[70,0.5],[66,0.1],[72,-0.3],[67,-0.7],[70,-1.1],[65,-1.5],[74,-1.8],[78,1.2],[80,0.7],[76,0.3],[82,-0.1],[79,-0.5],[84,-0.9],[77,-1.3],[85,-1.6],[88,0.9],[90,0.4],[92,0.0],[89,-0.4],[95,-0.8],[91,-1.2],[96,-1.5],[100,0.6],[103,0.2],[99,-0.2],[105,-0.6],[101,-1.0],[107,-1.4],[110,0.4],[114,-0.1],[112,-0.5],[118,-0.9],[115,-1.3],[120,0.3],[124,-0.3],[122,-0.7],[128,-1.1],[125,-1.5],[130,0.0],[135,-0.5],[132,0.6],[140,0.2],[145,-0.6],[70,1.5],[85,1.3],[95,1.1],[105,1.0],[62,-1.6],[72,-2.0],[80,-1.9],[90,-2.05],[100,-1.8],[110,-2.0],[118,-1.75],
[0,3.06],[5,3.06],[20,3.06],[25,3.06],[30,3.06],[35,3.06],[40,3.06],[45,3.06],[110,3.06],[124,3.06],[157,3.06],[0,-3.06],[5,-3.06],[10,-3.06],[30,-3.06],[45,-3.06],[55,-3.06],[60,-3.06],[71,-3.06],[75,-3.06],[116,-3.06],[0,2.78],[42,2.42],[62,2.47],[91,2.3],[132,2.69],[158,1.98],[114,1.35],[124,1.26],[145,0.82],[160,0.73],[167,0.64],[174,0.02],[171,-0.34],[167,-0.48],[160,-1.1],[154,-0.96],[151,-1.4],[157,-1.85],[132,-1.67],[114,-2.08],[124,-1.99],[134,-2.47],[91,-2.83],[100,-2.7],[71,-2.2],[59,-2.65],[42,-2.53],[29,-2.3],[26,-2.03],[32,-1.85],[220,-0.57],[220,-2.24],[364,1.67],[434,1.26],[433,0],[361,-1.1],[380,-0.96],[591,-0.6],[586,-2.74],[10,2.5],[15,2.2],[25,2.35],[35,2.1],[50,2.0],[8,-1.6],[15,-1.9],[3,-1.85],[20,-1.5],[40,-1.6],[50,-1.45],[150,0.3],[155,-0.2],[140,1.0],[135,1.3],[148,0.5]];
const dConcLow = [[0.6,1.5],[0.6,1.1],[0.6,0.7],[0.6,0.3],[0.6,-0.1],[0.6,-0.5],[0.6,-0.9],[0.6,-1.3],[0.8,1.6],[0.8,1.3],[0.8,0.9],[0.8,0.5],[0.8,0.1],[0.8,-0.3],[0.8,-0.7],[0.8,-1.1],[0.8,-1.5],[0.8,-1.9],[1.0,1.45],[1.0,1.1],[1.0,0.7],[1.0,0.3],[1.0,-0.1],[1.0,-0.5],[1.0,-0.9],[1.0,-1.3],[1.0,-1.7],[1.2,1.6],[1.2,1.25],[1.2,0.9],[1.2,0.5],[1.2,0.1],[1.2,-0.3],[1.2,-0.7],[1.2,-1.1],[1.2,-1.5],[1.2,-1.85],[1.4,1.5],[1.4,1.1],[1.4,0.7],[1.4,0.3],[1.4,-0.1],[1.4,-0.5],[1.4,-0.9],[1.4,-1.3],[1.4,-1.7],[1.6,1.6],[1.6,1.25],[1.6,0.9],[1.6,0.5],[1.6,0.1],[1.6,-0.3],[1.6,-0.7],[1.6,-1.1],[1.6,-1.5],[1.8,1.5],[1.8,1.1],[1.8,0.7],[1.8,0.3],[1.8,-0.1],[1.8,-0.5],[1.8,-0.9],[1.8,-1.3],[1.8,-1.7],[2.0,1.6],[2.0,1.25],[2.0,0.9],[2.0,0.5],[2.0,0.1],[2.0,-0.3],[2.0,-0.7],[2.0,-1.1],[2.0,-1.5],[2.0,-1.9],[2.2,1.3],[2.2,0.9],[2.2,0.5],[2.2,0.1],[2.2,-0.3],[2.2,-0.7],[2.2,-1.1],[2.2,-1.5],[2.4,1.0],[2.4,0.6],[2.4,0.2],[2.4,-0.2],[2.4,-0.6],[2.4,-1.0],[2.4,-1.4],
[0.7,1.3],[0.7,0.9],[0.7,0.5],[0.7,0.1],[0.7,-0.3],[0.7,-0.7],[0.7,-1.1],[0.9,1.45],[0.9,1.1],[0.9,0.7],[0.9,0.3],[0.9,-0.1],[0.9,-0.5],[0.9,-0.9],[0.9,-1.3],[1.1,1.3],[1.1,0.9],[1.1,0.5],[1.1,0.1],[1.1,-0.3],[1.1,-0.7],[1.1,-1.1],[1.1,-1.5],[1.3,1.45],[1.3,1.1],[1.3,0.7],[1.3,0.3],[1.3,-0.1],[1.3,-0.5],[1.3,-0.9],[1.3,-1.3],[1.5,1.3],[1.5,0.9],[1.5,0.5],[1.5,0.1],[1.5,-0.3],[1.5,-0.7],[1.5,-1.1],[1.5,-1.5],[1.7,1.45],[1.7,1.1],[1.7,0.7],[1.7,0.3],[1.7,-0.1],[1.7,-0.5],[1.7,-0.9],[1.7,-1.3],[1.9,1.3],[1.9,0.9],[1.9,0.5],[1.9,0.1],[1.9,-0.3],[1.9,-0.7],[1.9,-1.1],[1.9,-1.5],[2.1,1.45],[2.1,1.1],[2.1,0.7],[2.1,0.3],[2.1,-0.1],[2.1,-0.5],[2.1,-0.9],[2.1,-1.3],[2.3,0.7],[2.3,0.3],[2.3,-0.1],[2.3,-0.5],[2.3,-0.9],
[0.65,1.4],[0.65,1.0],[0.65,0.6],[0.65,0.2],[0.65,-0.2],[0.65,-0.6],[0.65,-1.0],[0.65,-1.4],[0.85,1.2],[0.85,0.8],[0.85,0.4],[0.85,0.0],[0.85,-0.4],[0.85,-0.8],[0.85,-1.2],[0.85,-1.6],[1.05,1.4],[1.05,1.0],[1.05,0.6],[1.05,0.2],[1.05,-0.2],[1.05,-0.6],[1.05,-1.0],[1.05,-1.4],[1.25,1.2],[1.25,0.8],[1.25,0.4],[1.25,0.0],[1.25,-0.4],[1.25,-0.8],[1.25,-1.2],[1.25,-1.6],[1.45,1.4],[1.45,1.0],[1.45,0.6],[1.45,0.2],[1.45,-0.2],[1.45,-0.6],[1.45,-1.0],[1.45,-1.4],[1.65,1.2],[1.65,0.8],[1.65,0.4],[1.65,0.0],[1.65,-0.4],[1.65,-0.8],[1.65,-1.2],[1.65,-1.6],[1.85,1.4],[1.85,1.0],[1.85,0.6],[1.85,0.2],[1.85,-0.2],[1.85,-0.6],[1.85,-1.0],[1.85,-1.4],[2.05,1.2],[2.05,0.8],[2.05,0.4],[2.05,0.0],[2.05,-0.4],[2.05,-0.8],[2.05,-1.2],[2.05,-1.6],[2.25,1.0],[2.25,0.6],[2.25,0.2],[2.25,-0.2],[2.25,-0.6],[2.25,-1.0],[2.25,-1.3],
[0.45,3.06],[0.6,3.06],[0.75,3.06],[0.9,3.06],[1.05,3.06],[1.2,3.06],[1.35,3.06],[1.5,3.06],[1.95,3.06],[2.05,3.06],[2.85,3.06],[2.17,2.95],[0.5,2.6],[0.64,2.78],[0.87,2.42],[1.1,2.24],[0.8,1.92],[0.29,2.33],[2.3,2.6],[2.37,2.5],[2.8,2.33],[0.4,-3.06],[0.6,-3.06],[1.3,-3.06],[1.45,-3.06],[0.3,-1.6],[0.45,-2.1],[0.5,-2.05],[0.55,-2.2],[0.6,-2.5],[0.4,-2.75],[0.7,-2.05],[1.1,-2.0],[1.25,-2.3],[1.4,-2.6],[1.6,-2.2],[1.7,-1.95],[1.85,-2.0],[2.0,-2.2],[2.2,-1.9],[2.4,-2.3],[0.35,0.6],[0.4,-0.4],[0.3,1.1],[0.45,1.5],[2.55,1.3],[2.6,-0.8],[2.5,1.6],[1.0,1.9],[1.5,1.85],[2.3,2.0],[0.65,2.2]];
const dConcMid = [[2.7,0.5],[2.8,-0.5],[2.9,1.2],[3.0,0.0],[3.0,-1.2],[3.1,1.7],[3.2,0.7],[3.3,-0.2],[3.4,1.62],[3.4,-0.9],[3.5,0.4],[3.6,1.1],[3.6,-1.8],[3.7,2.56],[3.7,-0.4],[3.8,0.8],[3.9,0.2],[3.9,-1.5],[4.0,1.3],[4.1,-0.6],[4.2,0.5],[4.3,-1.1],[4.4,0.1],[4.5,1.98],[4.5,-2.2],[4.6,0.9],[4.6,-0.3],[4.7,-1.7],[4.85,1.98],[4.8,0.3],[4.9,-0.9],[5.0,0.6],[5.0,-2.8],[5.1,-0.2],[5.2,1.2],[5.3,-1.4],[5.4,0.2],[5.5,-0.6],[5.6,1.57],[5.5,3.06],[4.0,-2.8],[3.2,-2.6],[5.3,-2.1],[4.2,1.6],[3.5,-1.0],[2.75,-1.5],[2.9,-1.9],[4.8,1.1],[5.2,0.9],[3.1,1.05]];
const dConcHigh = [[5.8,1.0],[5.8,0.6],[5.8,0.2],[5.8,-0.2],[5.8,-0.6],[5.8,-1.0],[6.0,1.3],[6.0,0.9],[6.0,0.5],[6.0,0.1],[6.0,-0.3],[6.0,-0.7],[6.0,-1.1],[6.0,-1.5],[6.2,1.5],[6.2,1.1],[6.2,0.7],[6.2,0.3],[6.2,-0.1],[6.2,-0.5],[6.2,-0.9],[6.2,-1.3],[6.2,-1.7],[6.4,1.3],[6.4,0.9],[6.4,0.5],[6.4,0.1],[6.4,-0.3],[6.4,-0.7],[6.4,-1.1],[6.4,-1.5],[6.6,1.5],[6.6,1.1],[6.6,0.7],[6.6,0.3],[6.6,-0.1],[6.6,-0.5],[6.6,-0.9],[6.6,-1.3],[6.8,1.3],[6.8,0.9],[6.8,0.5],[6.8,0.1],[6.8,-0.3],[6.8,-0.7],[6.8,-1.1],[6.8,-1.5],[7.0,1.2],[7.0,0.8],[7.0,0.4],[7.0,0.0],[7.0,-0.4],[7.0,-0.8],[7.0,-1.2],[7.2,1.0],[7.2,0.6],[7.2,0.2],[7.2,-0.2],[7.2,-0.6],[7.2,-1.0],[7.4,0.8],[7.4,0.4],[7.4,0.0],[7.4,-0.4],[7.4,-0.8],
[5.9,0.8],[5.9,0.4],[5.9,0.0],[5.9,-0.4],[5.9,-0.8],[6.1,1.1],[6.1,0.7],[6.1,0.3],[6.1,-0.1],[6.1,-0.5],[6.1,-0.9],[6.1,-1.3],[6.3,1.3],[6.3,0.9],[6.3,0.5],[6.3,0.1],[6.3,-0.3],[6.3,-0.7],[6.3,-1.1],[6.5,1.1],[6.5,0.7],[6.5,0.3],[6.5,-0.1],[6.5,-0.5],[6.5,-0.9],[6.5,-1.3],[6.7,1.3],[6.7,0.9],[6.7,0.5],[6.7,0.1],[6.7,-0.3],[6.7,-0.7],[6.7,-1.1],[6.9,1.0],[6.9,0.6],[6.9,0.2],[6.9,-0.2],[6.9,-0.6],[6.9,-1.0],[7.1,0.8],[7.1,0.4],[7.1,0.0],[7.1,-0.4],[7.1,-0.8],[7.3,0.6],[7.3,0.2],[7.3,-0.2],[7.3,-0.6],
[5.85,0.9],[5.85,0.5],[5.85,0.1],[5.85,-0.3],[5.85,-0.7],[6.05,1.2],[6.05,0.8],[6.05,0.4],[6.05,0.0],[6.05,-0.4],[6.05,-0.8],[6.05,-1.2],[6.25,1.3],[6.25,0.9],[6.25,0.5],[6.25,0.1],[6.25,-0.3],[6.25,-0.7],[6.25,-1.1],[6.25,-1.5],[6.45,1.2],[6.45,0.8],[6.45,0.4],[6.45,0.0],[6.45,-0.4],[6.45,-0.8],[6.45,-1.2],[6.65,1.3],[6.65,0.9],[6.65,0.5],[6.65,0.1],[6.65,-0.3],[6.65,-0.7],[6.65,-1.1],[6.65,-1.5],[6.85,1.1],[6.85,0.7],[6.85,0.3],[6.85,-0.1],[6.85,-0.5],[6.85,-0.9],[6.85,-1.3],[7.05,1.0],[7.05,0.6],[7.05,0.2],[7.05,-0.2],[7.05,-0.6],[7.05,-1.0],[7.25,0.8],[7.25,0.4],[7.25,0.0],[7.25,-0.4],[7.25,-0.8],
[5.6,1.0],[5.7,-1.2],[5.9,1.45],[6.0,-1.9],[6.3,-2.0],[6.5,-2.3],[6.4,-2.6],[6.7,-2.8],[6.8,-1.9],[7.0,-1.7],[7.2,-2.2],[7.4,-2.5],[7.5,-1.4],[7.1,1.6],[6.4,1.7],[6.6,1.9],[6.9,1.55],[7.0,2.8],[7.8,2.45],[6.4,-3.06],[6.6,-3.06],[7.0,-3.06],[7.6,-3.06],[7.7,-3.06],[8.7,-3.06],[10.3,-3.06],
[7.6,1.2],[7.7,0.5],[7.6,-0.3],[7.8,-1.0],[7.9,1.6],[8.0,0.9],[8.0,0.1],[8.1,-0.6],[8.2,1.3],[8.3,0.4],[8.3,-1.4],[8.4,-0.2],[8.5,1.0],[8.5,1.8],[8.6,0.6],[8.7,-0.7],[8.8,0.2],[8.9,1.3],[9.0,-0.3],[9.0,0.8],[9.1,1.98],[9.2,-1.1],[9.3,0.4],[9.4,1.0],[9.5,2.1],[9.5,-0.1],[9.6,0.6],[9.7,-0.6],[9.8,1.4],[9.9,0.2],[10.0,-0.3],[10.1,0.96],[10.25,1.44],[10.3,2.06],[10.2,0.4],[10.4,0.82],[10.3,-0.5],[10.5,0.0],[10.8,-0.52],[11.1,-0.52],[11.5,-0.57],[11.0,-1.09],[10.75,-2.0],[11.1,0.43],[11.5,0.55],[12.6,-1.4],[12.95,-0.87],[13.05,-0.96],[13.15,0.64],[8.2,-1.8],[8.6,-2.4],[9.1,-1.6],[8.0,-2.1],[7.9,-2.6],[9.4,-0.9],[8.8,1.6],[9.2,1.5],[7.7,0.9],[8.4,0.7],[9.7,0.2],[10.0,0.6]];

// Row e
const eTimeEarly = [[8,1.6],[8,1.1],[8,0.6],[8,0.1],[8,-0.4],[8,-0.9],[8,-1.4],[15,1.8],[15,1.3],[15,0.85],[15,0.35],[15,-0.15],[15,-0.65],[15,-1.15],[15,-1.65],[15,-2.1],[22,1.5],[22,1.0],[22,0.5],[22,0.0],[22,-0.5],[22,-1.0],[22,-1.5],[22,-2.0],[30,1.7],[30,1.2],[30,0.7],[30,0.2],[30,-0.3],[30,-0.8],[30,-1.3],[30,-1.8],[38,1.45],[38,0.95],[38,0.45],[38,-0.05],[38,-0.55],[38,-1.05],[38,-1.55],[45,1.65],[45,1.15],[45,0.65],[45,0.15],[45,-0.35],[45,-0.85],[45,-1.35],[53,1.3],[53,0.8],[53,0.3],[53,-0.2],[53,-0.7],[53,-1.2],[53,-1.7],[60,1.5],[60,1.0],[60,0.5],[60,0.0],[60,-0.5],[60,-1.0],[60,-1.5],[68,1.2],[68,0.7],[68,0.2],[68,-0.3],[68,-0.8],[68,-1.3],[75,1.4],[75,0.9],[75,0.4],[75,-0.1],[75,-0.6],[75,-1.1],[75,-1.6],[83,1.1],[83,0.6],[83,0.1],[83,-0.4],[83,-0.9],[90,1.3],[90,0.8],[90,0.3],[90,-0.2],[90,-0.7],[90,-1.2],[98,1.0],[98,0.5],[98,0.0],[98,-0.5],[98,-1.0],[105,1.5],[105,1.2],[105,0.7],[105,0.2],[105,-0.3],[105,-0.8],[113,1.75],[113,1.0],[113,0.5],[113,0.0],[113,-0.5],[113,-1.3],[120,1.4],[120,0.8],[120,0.3],[120,-0.2],[120,-0.9],[128,1.6],[128,1.1],[128,0.6],[128,0.1],[128,-0.4],[135,0.9],[135,0.4],[135,-0.1],[135,-0.6],[143,1.2],[143,0.7],[143,0.2],
[12,1.35],[12,0.6],[12,-0.1],[12,-0.9],[26,1.25],[26,0.25],[26,-0.75],[34,0.95],[34,-0.05],[34,-1.05],[42,1.4],[42,0.4],[42,-0.6],[49,1.05],[49,0.05],[49,-0.95],[57,1.25],[57,0.25],[57,-0.75],[64,0.95],[64,-0.05],[64,-1.05],[79,1.15],[79,0.15],[79,-0.85],[94,1.05],[94,0.05],[109,0.45],[124,-0.55],
[5,1.3],[5,0.8],[5,0.3],[5,-0.2],[5,-0.7],[5,-1.2],[11,1.7],[11,1.2],[11,0.7],[11,0.2],[11,-0.3],[11,-0.8],[11,-1.3],[11,-1.8],[19,1.55],[19,1.05],[19,0.55],[19,0.05],[19,-0.45],[19,-0.95],[19,-1.45],[19,-1.9],[27,1.45],[27,0.95],[27,0.45],[27,-0.05],[27,-0.55],[27,-1.05],[27,-1.55],[34,1.5],[34,0.5],[34,-0.5],[34,-1.5],[41,1.15],[41,0.65],[41,0.15],[41,-0.35],[41,-0.85],[41,-1.35],[41,-1.8],[49,1.5],[49,0.5],[49,-0.5],[49,-1.45],[57,1.0],[57,0.5],[57,0.0],[57,-0.5],[57,-1.0],[57,-1.5],[64,1.3],[64,0.4],[64,-0.6],[64,-1.5],[71,1.0],[71,0.5],[71,0.0],[71,-0.5],[71,-1.0],[71,-1.4],[79,1.4],[79,0.6],[79,-0.35],[79,-1.3],[87,1.0],[87,0.5],[87,0.0],[87,-0.5],[87,-1.0],[87,-1.5],[94,1.3],[94,0.5],[94,-0.5],[94,-1.3],[102,0.8],[102,0.3],[102,-0.2],[102,-0.7],[102,-1.2],[109,1.2],[109,0.8],[109,-0.1],[109,-0.9],[117,1.1],[117,0.6],[117,0.1],[117,-0.4],[117,-1.0],[124,1.2],[124,0.6],[124,0.0],[124,-0.9],[132,0.8],[132,0.3],[132,-0.2],[132,-0.8],[139,1.0],[139,0.5],[139,0.0],[139,-0.5]];
const eTimeLate = [[150,0.9],[160,0.4],[165,-0.2],[170,0.1],[175,0.6],[180,-0.5],[185,1.2],[190,0.2],[195,-0.8],[200,0.5],[205,1.0],[210,-0.2],[215,0.3],[220,-0.6],[225,0.8],[230,0.1],[240,-0.3],[245,0.6],[250,1.3],[255,0.0],[260,-0.7],[265,0.4],[270,1.0],[275,-0.2],[280,0.7],[285,0.1],[290,-0.5],[295,1.4],[300,0.3],[305,-0.9],[310,0.8],[315,0.0],[320,1.1],[325,-0.4],[330,0.5],[340,1.2],[345,-0.1],[350,0.6],[355,-0.6],[360,0.2],[365,1.3],[370,-0.3],[375,0.9],[380,-0.7],[385,0.4],[390,1.0],[395,-0.5],[400,0.0],[405,0.7],[410,-0.2],[415,1.2],[420,0.3],[425,-0.8],[430,0.6],[440,0.1],[445,-0.4],[450,0.9],[455,0.2],[460,-0.6],[470,0.4],[480,0.8],[490,-0.1],[500,0.3],[520,1.0],[540,0.5],[560,-0.2],[575,0.6],[595,1.1],[240,1.7],[210,1.5],[195,1.9],[260,1.8],[300,1.6],[340,1.9],[280,-1.3],[230,-1.0],[330,-1.2],[360,-0.9],[420,-1.1],[380,-1.6],[410,-0.7],[175,-1.4],[160,-1.0],[155,1.6],[170,1.9],[190,-1.7],[150,-2.2],
[207,3.06],[220,3.06],[257,3.06],[393,3.06],[452,3.06],[480,3.06],[493,3.06],[502,3.06],[572,3.06],[267,2.82],[313,2.82],[322,2.63],[276,2.54],[248,2.25],[170,2.44],[156,2.2],[115,2.35],[118,2.16],[63,2.25],[54,2.44],[72,2.73],[44,2.77],[350,2.16],[331,1.93],[378,2.0],[393,2.5],[418,1.59],[433,1.87],[448,1.4],[461,2.25],[467,2.0],[480,1.87],[544,1.21],[541,1.69],[578,1.82],[581,2.2],[674,2.76],[674,1.25],[683,0.83],[689,0.55],[683,0.36],[689,-0.64],[85,-3.05],[118,-3.05],[137,-3.05],[220,-3.05],[159,-2.86],[44,-2.58],[63,-2.42],[78,-2.3],[118,-1.97],[91,-1.59],[100,-1.82],[202,-1.25],[257,-1.16],[285,-1.06],[313,-0.87],[355,-1.44],[368,-1.63],[396,-1.53],[396,-1.97],[470,-1.44],[433,-0.59],[452,-0.78],[30,2.0],[20,1.6],[40,1.9],[10,-1.8],[25,-2.6],[50,-2.2],[60,-1.9],[130,-1.6],[140,-1.2],[100,1.6],[90,1.9],[130,1.9]];
const eConcLow = [[0.3,1.5],[0.3,1.0],[0.3,0.5],[0.3,0.0],[0.3,-0.5],[0.3,-1.0],[0.5,1.7],[0.5,1.2],[0.5,0.7],[0.5,0.2],[0.5,-0.3],[0.5,-0.8],[0.5,-1.3],[0.5,-1.8],[0.7,2.0],[0.7,1.45],[0.7,0.95],[0.7,0.45],[0.7,-0.05],[0.7,-0.55],[0.7,-1.05],[0.7,-1.55],[0.7,-2.0],[0.9,1.8],[0.9,1.25],[0.9,0.75],[0.9,0.25],[0.9,-0.25],[0.9,-0.75],[0.9,-1.25],[0.9,-1.75],[1.1,2.1],[1.1,1.5],[1.1,1.0],[1.1,0.5],[1.1,0.0],[1.1,-0.5],[1.1,-1.0],[1.1,-1.5],[1.1,-2.0],[1.3,1.7],[1.3,1.2],[1.3,0.7],[1.3,0.2],[1.3,-0.3],[1.3,-0.8],[1.3,-1.3],[1.3,-1.8],[1.3,-2.2],[1.5,1.4],[1.5,0.95],[1.5,0.45],[1.5,-0.05],[1.5,-0.55],[1.5,-1.05],[1.5,-1.55],[1.7,1.1],[1.7,0.6],[1.7,0.1],[1.7,-0.4],[1.7,-0.9],[1.7,-1.4],[1.7,-1.9],[1.9,1.3],[1.9,0.8],[1.9,0.3],[1.9,-0.2],[1.9,-0.7],[1.9,-1.2],[2.1,0.9],[2.1,0.4],[2.1,-0.1],[2.1,-0.6],[2.1,-1.1],[2.1,-1.6],[2.3,1.0],[2.3,0.5],[2.3,0.0],[2.3,-0.5],[2.3,-1.0],
[0.6,1.45],[0.6,0.95],[0.6,0.45],[0.6,-0.05],[0.6,-0.55],[0.6,-1.05],[0.6,-1.55],[0.8,1.55],[0.8,1.05],[0.8,0.55],[0.8,0.05],[0.8,-0.45],[0.8,-0.95],[0.8,-1.45],[1.0,1.3],[1.0,0.8],[1.0,0.3],[1.0,-0.2],[1.0,-0.7],[1.0,-1.2],[1.0,-1.7],[1.2,1.45],[1.2,0.95],[1.2,0.45],[1.2,-0.05],[1.2,-0.55],[1.2,-1.05],[1.2,-1.55],[1.4,1.2],[1.4,0.7],[1.4,0.2],[1.4,-0.3],[1.4,-0.8],[1.4,-1.3],[1.6,0.85],[1.6,0.35],[1.6,-0.15],[1.6,-0.65],[1.6,-1.15],
[0.4,1.75],[0.4,1.25],[0.4,0.75],[0.4,0.25],[0.4,-0.25],[0.4,-0.75],[0.4,-1.25],[0.4,-1.7],[0.65,1.95],[0.65,1.2],[0.65,0.7],[0.65,0.2],[0.65,-0.3],[0.65,-0.8],[0.65,-1.3],[0.65,-1.8],[0.85,1.5],[0.85,1.0],[0.85,0.5],[0.85,0.0],[0.85,-0.5],[0.85,-1.0],[0.85,-1.5],[0.85,-1.95],[1.15,1.75],[1.15,1.25],[1.15,0.75],[1.15,0.25],[1.15,-0.25],[1.15,-0.75],[1.15,-1.25],[1.15,-1.75],[1.35,1.45],[1.35,0.95],[1.35,0.45],[1.35,-0.05],[1.35,-0.55],[1.35,-1.05],[1.35,-1.55],[1.35,-2.0],[1.55,1.15],[1.55,0.7],[1.55,0.2],[1.55,-0.3],[1.55,-0.8],[1.55,-1.3],[1.55,-1.8],[1.8,0.85],[1.8,0.35],[1.8,-0.15],[1.8,-0.65],[1.8,-1.15],[1.8,-1.65],[2.0,1.05],[2.0,0.55],[2.0,0.05],[2.0,-0.45],[2.0,-0.95],[2.0,-1.4],[2.2,0.7],[2.2,0.2],[2.2,-0.3],[2.2,-0.8],[2.2,-1.3]];
const eConcBand = [[2.5,0.6],[2.6,-0.4],[2.7,1.2],[2.8,0.1],[2.9,-1.0],[3.0,0.8],[3.1,-0.2],[3.2,1.5],[3.3,0.4],[3.4,-0.7],[3.5,1.0],[3.6,0.0],[3.7,-1.3],[3.8,0.6],[3.9,-0.4],[4.0,1.3],[4.1,0.2],[4.2,-0.9],[4.3,0.9],[4.4,-0.1],[4.5,1.6],[4.6,0.5],[4.7,-0.6],[4.8,1.1],[4.9,0.0],[5.0,-1.1],[5.1,0.7],[5.2,-0.3],[5.3,1.4],[5.4,0.3],[5.5,-0.8],[5.6,0.9],[5.7,-0.1],[5.8,1.2],[5.9,0.4],[6.0,-0.6],[6.1,1.0],[6.2,0.1],[6.3,-1.2],[6.4,0.6],[6.5,-0.3],[6.6,1.3],[6.7,0.2],[6.8,-0.9],[6.9,0.8],[7.0,-0.2],[7.1,1.1],[7.2,0.4],[7.3,-0.6],[7.4,0.9],[7.5,0.0],[7.6,-1.0],[7.7,0.6],[7.8,-0.3],[7.9,1.3],[8.0,0.3],[8.1,-0.7],[8.2,0.8],[8.3,-0.1],[8.4,1.0],[8.5,0.2],[8.6,-0.9],[8.7,0.6],[8.8,-0.4],[8.9,1.2],[9.0,0.1],[9.1,-0.6],[9.2,0.7],[9.3,-0.2],[9.4,1.0],[9.5,0.3],[9.6,-1.0],[9.7,0.5],[9.8,-0.3],[9.9,1.1],[10.0,0.0],[10.1,-0.8],[10.2,0.6],[10.3,-0.4],[10.4,1.3],[10.5,0.2],[10.6,-0.6],[10.7,0.8],[10.8,-0.2],[10.9,0.4],[11.0,-1.0],[11.1,0.7],[11.2,0.0],[11.4,-0.5],[11.6,0.5],[11.8,0.2],[12.0,-0.3],[12.2,0.4],[12.4,0.55],[12.3,0.7],
[2.6,0.9],[2.9,0.3],[3.2,-0.5],[3.5,0.5],[3.8,-0.1],[4.1,0.8],[4.4,-0.5],[4.7,0.3],[5.0,0.5],[5.3,-0.4],[5.6,0.3],[5.9,-0.3],[6.2,0.7],[6.5,0.3],[6.8,0.0],[7.1,-0.5],[7.4,0.2],[7.7,-0.5],[8.0,-0.2],[8.3,0.5],[8.6,0.0],[8.9,-0.2],[9.2,0.3],[9.5,-0.4],[9.8,0.2],[10.1,0.3],[10.4,-0.2],[10.7,0.1],[11.0,0.2],[7.2,-1.2],[8.0,-1.1],[8.8,-1.1],[9.6,-0.7],[10.4,-1.2],[10.8,-1.6],[9.0,0.6],[8.2,1.1],[7.6,0.9],[9.4,0.5],[10.0,0.8],[8.5,-0.4],[7.9,0.5],[9.9,-0.5],[6.6,-0.5],[7.0,0.5],
[6.1,0.4],[6.3,-0.2],[6.5,0.9],[6.7,-0.7],[6.9,0.3],[7.1,0.7],[7.3,0.1],[7.5,1.1],[7.6,-0.4],[7.8,0.4],[8.0,-0.6],[8.1,0.7],[8.3,0.2],[8.4,-0.6],[8.6,0.4],[8.7,1.1],[8.9,0.4],[9.0,-0.9],[9.1,0.2],[9.3,0.9],[9.4,-0.5],[9.6,0.1],[9.7,-0.2],[9.9,0.5],[10.0,-1.2],[10.2,0.0],[10.3,0.5],[10.5,-0.9],[10.6,0.5],[10.8,0.7],[11.0,-0.5],[11.3,0.3],[7.0,-1.0],[8.5,-1.3],[9.2,1.3],[10.9,-1.2],[4.0,0.4],[5.0,-0.5],[3.5,-0.2],[4.5,0.8],[5.5,0.2],[3.0,0.2],[2.7,-0.7],[4.2,-0.3],
[0.2,3.06],[0.35,3.06],[0.55,3.06],[0.8,3.06],[1.05,3.06],[1.25,3.06],[1.6,3.06],[2.0,3.06],[2.85,3.06],[4.95,3.06],[6.6,3.06],[1.7,2.63],[1.94,2.5],[1.24,2.82],[2.2,2.16],[2.7,1.93],[5.8,2.35],[0.47,1.97],[0.85,2.25],[8.0,1.78],[8.2,1.4],[9.7,2.0],[9.96,1.87],[10.5,1.5],[10.7,1.4],[10.85,2.25],[11.2,2.35],[11.5,1.78],[12.3,1.69],[1.24,-3.05],[8.2,-3.05],[8.4,-3.05],[7.25,-2.77],[6.5,-2.95],[10.9,-3.05],[9.77,-2.67],[10.1,-2.3],[8.5,-2.16],[2.5,-2.48],[1.43,-2.3],[1.82,-2.2],[0.85,-2.0],[3.5,-1.97],[9.7,-1.72],[10.15,-1.63],[10.5,-1.59],[0.4,2.4],[0.6,2.6],[1.0,2.3],[1.4,2.0],[0.1,0.2],[0.15,-0.6],[2.4,1.6],[3.0,1.8],[4.0,1.6],[3.3,-1.6],[5.5,1.5],[6.0,-1.4],[4.5,-1.3],[2.8,-1.8],[2.2,-2.4],[1.0,-2.4],[11.6,-0.9],[11.8,-0.7],[12.0,0.9]];

const histCounts = [histA,histB,histC,histD,histE];
const timeData = [aTime, bTimeStrips.concat(bTimeEdges), cTimeMain.concat(cTimeSpread), dTimeBlock.concat(dTimeSpread), eTimeEarly.concat(eTimeLate)];
const concData = [aConc, bConcMain.concat(bConcCores), cConcMain.concat(cConcOuter), dConcLow.concat(dConcMid, dConcHigh), eConcLow.concat(eConcBand)];

// ---------------- LAYOUT (positions, sizes) ----------------
const layout = [
 {title:{lx:41,ly:24,dx:67,dy:23,rx:124,ry:16},
  hist:{xa:57.7,xb:184.6,y0:160.7,yRef:42.7,axisY:166,axisX:53,freqX:15,tickBase:185},
  mid:{x0:241,x1:398,y0:38,y1:165,xd:[-25,650],yd:[-2.83,3.33],lab:33},
  right:{x0:460,x1:615,xd:[0.2,8.6],lab:32},
  tickBase:185,titleBase:206,r:2.5,sw:0.8,tf:8.5},
 {title:{lx:46,ly:229,dx:70,dy:228,rx:130,ry:221},
  hist:{xa:72.7,xb:193.9,y0:366.7,yRef:256.7,axisY:372,axisX:57,freqX:19,tickBase:391.5},
  mid:{x0:245,x1:402,y0:244,y1:372,xd:[34.5,74.5],yd:[-3.33,3.35],lab:35},
  right:{x0:464,x1:619,xd:[0.68,8.63],lab:37},
  tickBase:391.5,titleBase:412.5,r:2.5,sw:0.85,tf:8.5},
 {title:{lx:47,ly:429,dx:70,dy:428,rx:132,ry:421.5},
  hist:{xa:78,xb:202,y0:566.7,yRef:455.7,axisY:571,axisX:62,freqX:23,tickBase:585},
  mid:{x0:244,x1:402,y0:447,y1:570,xd:[-21,613],yd:[-3.27,3.39],lab:34},
  right:{x0:467,x1:623,xd:[-1.7,61.3],lab:36},
  tickBase:589,titleBase:604,r:2.3,sw:0.85,tf:8.5},
 {title:{lx:44,ly:654,dx:60,dy:652,rx:123,ry:641},
  hist:{xa:75,xb:213,y0:775,yRef:685,axisY:780,axisX:57,freqX:21,tickBase:790},
  mid:{x0:251,x1:412,y0:655,y1:780,xd:[-20,614.5],yd:[-3.27,3.41],lab:37},
  right:{x0:459,x1:621,xd:[-0.35,13.65],lab:26},
  tickBase:790.5,titleBase:814,r:1.65,sw:1.0,tf:7.5},
 {title:{lx:44,ly:842,dx:64,dy:841,rx:129,ry:831},
  hist:{xa:74,xb:202.4,y0:970,yRef:877,axisY:975,axisX:57,freqX:21,tickBase:991.5},
  mid:{x0:250,x1:415,y0:858,y1:975,xd:[-25,735],yd:[-3.34,3.28],lab:32},
  right:{x0:466,x1:620,xd:[-0.73,13.27],lab:32},
  tickBase:991.5,titleBase:1014,r:2.1,sw:0.85,tf:7.5}
];

// ---------------- DRAW ----------------
const svg = d3.select('body').append('svg').attr('width',645).attr('height',1024);
svg.append('rect').attr('width',645).attr('height',1024).attr('fill','#fff');
const TF = "Roboto, 'Liberation Sans', sans-serif";
const LF = "'Open Sans', 'Noto Sans', sans-serif";
const fmt = d3.format('');

function styleTicks(g, fs){
  g.select('.domain').remove();
  g.selectAll('.tick line').attr('stroke','#222').attr('stroke-width',0.8);
  g.selectAll('.tick text').attr('font-family',TF).attr('font-size',fs).attr('fill','#222');
}

function drawRow(i){
  const Lr = layout[i];
  const T = Lr.title;
  svg.append('text').attr('x',T.lx).attr('y',T.ly).text(letters[i])
    .attr('font-family',LF).attr('font-weight','bold').attr('font-size',17).attr('fill','#111');
  svg.append('text').attr('x',T.dx).attr('y',T.dy).text(drugs[i])
    .attr('font-family',TF).attr('font-weight','bold').attr('font-size',11).attr('fill','#111');
  svg.append('text').attr('x',T.rx).attr('y',T.ry).text(refs[i])
    .attr('font-family',TF).attr('font-size',7.5).attr('fill','#111');

  const H = Lr.hist, counts = histCounts[i], st = histStart[i];
  const fT = freqTicks[i];
  const hx = d3.scaleLinear().domain([-3,3]).range([H.xa,H.xb]);
  const hy = d3.scaleLinear().domain([0,fT[fT.length-1]]).range([H.y0,H.yRef]);
  const hg = svg.append('g');
  hg.selectAll('rect').data(counts).join('rect')
    .attr('x',(d,k)=>hx(st+k*binW)).attr('width',(d,k)=>hx(st+(k+1)*binW)-hx(st+k*binW))
    .attr('y',d=>hy(d)).attr('height',d=>hy(0)-hy(d))
    .attr('fill','#fff').attr('stroke','#111').attr('stroke-width',0.8);
  const cs = curveSpan[i];
  const xsC = d3.range(cs[0], cs[1]+0.001, 0.05);
  hg.append('path').attr('d', d3.line().x(v=>hx(v)).y(v=>hy(curvePeak[i]*Math.exp(-v*v/2)))(xsC))
    .attr('fill','none').attr('stroke','#000').attr('stroke-width',2.2);
  const gx = hg.append('g').attr('transform',`translate(0,${H.axisY})`)
    .call(d3.axisBottom(hx).tickValues(histXTicks).tickSize(4).tickFormat(fmt));
  styleTicks(gx, Lr.tf);
  gx.selectAll('.tick text').attr('y',H.tickBase-H.axisY).attr('dy',0);
  gx.append('line').attr('x1',hx(-3)).attr('x2',hx(3)).attr('stroke','#222').attr('stroke-width',0.8);
  const gy = hg.append('g').attr('transform',`translate(${H.axisX},0)`)
    .call(d3.axisLeft(hy).tickValues(fT).tickSize(4).tickFormat(fmt));
  styleTicks(gy, Lr.tf);
  gy.selectAll('.tick text').attr('transform','rotate(-90)').attr('x',0).attr('y',-11).attr('dy',0).attr('text-anchor','middle');
  gy.append('line').attr('y1',hy(0)).attr('y2',hy(fT[fT.length-1])).attr('stroke','#222').attr('stroke-width',0.8);
  const peakTop = counts.reduce((a,b)=>Math.max(a,b),0);
  const hxc = (hx(st - 0.04*(3.5-st)) + hx(3.5 + 0.04*(3.5-st)))/2;
  hg.append('text').attr('x',hxc).attr('y',Lr.titleBase).attr('text-anchor','middle').text('npde')
    .attr('font-family',LF).attr('font-size',12.5).attr('fill','#111');
  const fy = hy(peakTop/2);
  hg.append('text').attr('transform',`translate(${H.freqX+4.5},${fy}) rotate(-90)`).attr('text-anchor','middle').text('Frequency')
    .attr('font-family',LF).attr('font-size',13).attr('fill','#111');

  const M = Lr.mid;
  scatter(M, M.xd, timeData[i], timeTicks[i], timeTickLabels[i], 'Time (hours)', Lr, M.lab);
  const R = Lr.right;
  scatter({x0:R.x0,x1:R.x1,y0:M.y0,y1:M.y1,yd:M.yd}, R.xd, concData[i], concTicks[i], null, 'Observed Concentrations (mg/L)', Lr, R.lab);
}

function scatter(P, xd, data, xt, xtl, xtitle, Lr, lab){
  const xs = d3.scaleLinear().domain(xd).range([P.x0,P.x1]);
  const ys = d3.scaleLinear().domain(P.yd).range([P.y1,P.y0]);
  const g = svg.append('g');
  g.append('g').selectAll('circle').data(data).join('circle')
    .attr('cx',d=>xs(d[0])).attr('cy',d=>ys(d[1])).attr('r',Lr.r)
    .attr('fill','none').attr('stroke','#111').attr('stroke-width',Lr.sw);
  g.append('line').attr('x1',P.x0).attr('x2',P.x1).attr('y1',ys(0)).attr('y2',ys(0))
    .attr('stroke','#444').attr('stroke-width',1.8).attr('stroke-dasharray','6,4');
  [-piLimit, piLimit].forEach(v=>{
    g.append('line').attr('x1',P.x0).attr('x2',P.x1).attr('y1',ys(v)).attr('y2',ys(v))
      .attr('stroke','#444').attr('stroke-width',1).attr('stroke-dasharray','1,2.6');
  });
  g.append('rect').attr('x',P.x0).attr('y',P.y0).attr('width',P.x1-P.x0).attr('height',P.y1-P.y0)
    .attr('fill','none').attr('stroke','#444').attr('stroke-width',1.2);
  const gx = g.append('g').attr('transform',`translate(0,${P.y1})`)
    .call(d3.axisBottom(xs).tickValues(xt).tickSize(4).tickFormat(v=> (xtl && xtl.indexOf(v)<0) ? '' : fmt(v)));
  styleTicks(gx, Lr.tf);
  gx.selectAll('.tick text').attr('y',Lr.tickBase-P.y1).attr('dy',0);
  const yt = npdeTicks.filter(v=>v>=P.yd[0] && v<=P.yd[1]);
  const gy = g.append('g').attr('transform',`translate(${P.x0},0)`)
    .call(d3.axisLeft(ys).tickValues(yt).tickSize(4).tickFormat(fmt));
  styleTicks(gy, Lr.tf);
  gy.selectAll('.tick text').attr('transform','rotate(-90)').attr('x',0).attr('y',-10.5).attr('dy',0).attr('text-anchor','middle');
  g.append('text').attr('x',(P.x0+P.x1)/2).attr('y',Lr.titleBase).attr('text-anchor','middle').text(xtitle)
    .attr('font-family',LF).attr('font-size',12.5).attr('fill','#111');
  g.append('text').attr('transform',`translate(${P.x0-lab+4.5},${(P.y0+P.y1)/2}) rotate(-90)`).attr('text-anchor','middle').text('npde')
    .attr('font-family',LF).attr('font-size',13.5).attr('fill','#111');
}

for(let i=0;i<5;i++) drawRow(i);
</script>
</body></html>
